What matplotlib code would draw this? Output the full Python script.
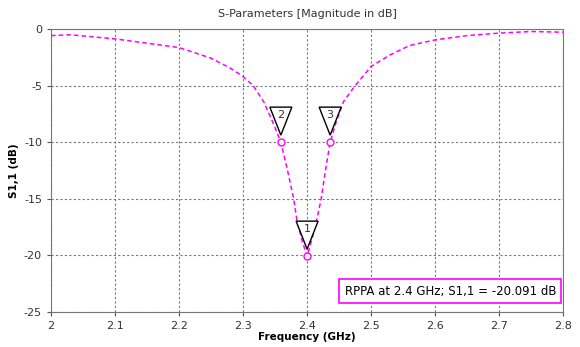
import matplotlib
matplotlib.use("Agg")
import matplotlib.pyplot as plt
from matplotlib.patches import Polygon
from matplotlib.transforms import ScaledTranslation

plt.rcParams["axes.unicode_minus"] = False

# S11 curve
freq = [2.00, 2.03, 2.10, 2.20, 2.25, 2.28, 2.30, 2.316, 2.332, 2.346, 2.359,
        2.369, 2.379, 2.384, 2.392, 2.40, 2.408, 2.415, 2.422, 2.429, 2.436,
        2.446, 2.457, 2.475, 2.50, 2.53, 2.56, 2.60, 2.65, 2.70, 2.75, 2.80]
s11 = [-0.57, -0.5, -0.86, -1.63, -2.57, -3.45, -4.19, -5.02, -6.4, -8.18, -10.0,
       -12.4, -15.0, -16.9, -18.7, -20.09, -18.5, -16.9, -15.0, -12.4, -10.0,
       -8.1, -6.4, -5.0, -3.3, -2.27, -1.45, -0.95, -0.57, -0.35, -0.21, -0.27]

# markers: label, frequency, value
mk_labels = ["1", "2", "3"]
mk_freq = [2.40, 2.359, 2.436]
mk_val = [-20.09, -10.0, -10.0]

xticks = [2, 2.1, 2.2, 2.3, 2.4, 2.5, 2.6, 2.7, 2.8]
xticklabels = ["2", "2.1", "2.2", "2.3", "2.4", "2.5", "2.6", "2.7", "2.8"]
yticks = [0, -5, -10, -15, -20, -25]

mag = "#ff00ff"

fig = plt.figure(figsize=(5.8, 3.47), dpi=100)
ax = fig.add_axes([0.088, 0.102, 0.883, 0.814])

ax.plot(freq, s11, color=mag, linestyle=(0, (3, 2)), linewidth=1.1, zorder=3)
ax.plot(mk_freq, mk_val, linestyle="none", marker="o", markersize=5,
        markerfacecolor="white", markeredgecolor=mag, markeredgewidth=1.0, zorder=4)

# inverted triangle marker labels drawn in inches relative to the point
for lab, f, v in zip(mk_labels, mk_freq, mk_val):
    tr = fig.dpi_scale_trans + ScaledTranslation(f, v, ax.transData)
    tri = Polygon([(-0.11, 0.35), (0.11, 0.35), (0.0, 0.07)], closed=True,
                  facecolor="white", edgecolor="black", linewidth=1.0,
                  transform=tr, zorder=5)
    ax.add_patch(tri)
    ax.text(0.0, 0.27, lab, transform=tr, ha="center", va="center",
            fontsize=8, color="#333333", zorder=6)

ax.set_xlim(2, 2.8)
ax.set_ylim(-25, 0)
ax.set_xticks(xticks)
ax.set_xticklabels(xticklabels)
ax.set_yticks(yticks)
ax.tick_params(labelsize=8, length=3, color="#555555", labelcolor="#333333")
ax.grid(True, linestyle=(0, (2, 2)), color="#777777", linewidth=0.8)
for s in ax.spines.values():
    s.set_color("#777777")

ax.set_title("S-Parameters [Magnitude in dB]", fontsize=8, color="#333333", pad=9)
ax.set_xlabel("Frequency (GHz)", fontsize=7.5, fontweight="bold", labelpad=1)
ax.set_ylabel("S1,1 (dB)", fontsize=7.5, fontweight="bold", labelpad=0)
ax.yaxis.set_label_coords(-0.062, 0.5)

ax.text(0.986, 0.072, "RPPA at 2.4 GHz; S1,1 = -20.091 dB", transform=ax.transAxes,
        ha="right", va="center", fontsize=8.5, color="black", zorder=7,
        bbox=dict(boxstyle="square,pad=0.45", facecolor="white", edgecolor=mag,
                  linewidth=1.2))

fig.savefig("out.png", dpi=100)
